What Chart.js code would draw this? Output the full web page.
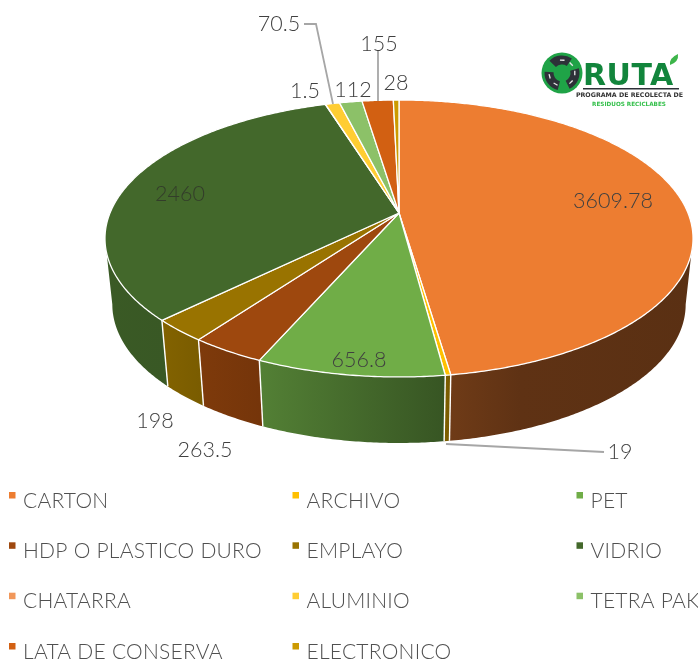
<!DOCTYPE html>
<html><head><meta charset="utf-8">
<style>html,body{margin:0;padding:0;background:#fff}canvas{display:block}</style>
<script src="https://cdn.jsdelivr.net/npm/chart.js@4"></script>
</head><body><canvas id="c" width="698" height="661"></canvas>
<script>
const categories = ['CARTON','ARCHIVO','PET','HDP O PLASTICO DURO','EMPLAYO','VIDRIO','CHATARRA','ALUMINIO','TETRA PAK','LATA DE CONSERVA','ELECTRONICO'];
const tonnage = [3609.78,19,656.8,263.5,198,2460,1.5,70.5,112,155,28];
const valueLabels = ['3609.78','19','656.8','263.5','198','2460','1.5','70.5','112','155','28'];
const sliceColors = ['#ED7D31','#FFC000','#70AD47','#9E480E','#997300','#43682B','#F1975A','#FFCD33','#8CC168','#D26012','#CC9A00'];

const FONT = 'Lato, "Open Sans", sans-serif';
const G = {cx:399, cy:213, Rx:289, Ry:133.8, p:0.184, s:0.975, d:66};
const SHADE = [[105,.87],[165,.85],[200,.80],[260,.74],[445,.49],[450,.47],[520,.40],[693,.38]];
const LABEL_POS = [[620,452],[620,452],[359,360],[205,450],[155,421],[180,194],[305,91],[279,24],[353,90],[379,44],[396,83]];
LABEL_POS[0] = [613,201];

function top3d(t){const u=Math.sin(t),v=-Math.cos(t),w=1-G.p*v;return [G.cx+G.Rx*u/w,G.cy+G.Ry*v/w];}
function low3d(t){const q=top3d(t);return [G.cx+(q[0]-G.cx)*G.s,q[1]+G.d];}
function rgb(h){return [1,3,5].map(i=>parseInt(h.substr(i,2),16));}
const WMIN=100.6*Math.PI/180, WMAX=259.4*Math.PI/180, STEP=Math.PI/360;

const pie3d = {
  id:'pie3d',
  beforeDatasetDraw(chart,args){
    const ctx=chart.ctx, arcs=args.meta.data;
    const ang=arcs.map(a=>[a.startAngle+Math.PI/2,a.endAngle+Math.PI/2]);
    ctx.save();
    arcs.forEach((a,i)=>{
      const s=Math.max(ang[i][0],WMIN), e=Math.min(ang[i][1],WMAX);
      if(e<=s) return;
      const base=rgb(a.options.backgroundColor);
      const g=ctx.createLinearGradient(105,0,693,0);
      SHADE.forEach(([x,f])=>g.addColorStop((x-105)/588,`rgb(${base.map(c=>Math.round(c*f)).join(',')})`));
      ctx.beginPath();
      for(let t=s;t<e;t+=STEP){const q=top3d(t);ctx.lineTo(q[0],q[1]);}
      let q=top3d(e);ctx.lineTo(q[0],q[1]);
      for(let t=e;t>s;t-=STEP){q=low3d(t);ctx.lineTo(q[0],q[1]);}
      q=low3d(s);ctx.lineTo(q[0],q[1]);
      ctx.closePath();ctx.fillStyle=g;ctx.fill();
    });
    ctx.strokeStyle='#fff';ctx.lineWidth=1.4;
    arcs.forEach((a,i)=>{
      const t=ang[i][0];
      if(t<=WMIN||t>=WMAX) return;
      const q=top3d(t),r=low3d(t);
      ctx.beginPath();ctx.moveTo(q[0],q[1]);ctx.lineTo(r[0],r[1]);ctx.stroke();
    });
    arcs.forEach((a,i)=>{
      ctx.beginPath();ctx.moveTo(G.cx,G.cy);
      for(let t=ang[i][0];t<ang[i][1];t+=STEP){const q=top3d(t);ctx.lineTo(q[0],q[1]);}
      const q=top3d(ang[i][1]);ctx.lineTo(q[0],q[1]);ctx.closePath();
      ctx.fillStyle=a.options.backgroundColor;ctx.fill();
      ctx.lineJoin='round';ctx.strokeStyle='#fff';ctx.lineWidth=1.3;ctx.stroke();
    });
    ctx.restore();
    return false;
  },
  afterDraw(chart){
    const ctx=chart.ctx;
    ctx.save();
    ctx.strokeStyle='#A6A6A6';ctx.lineWidth=1.8;
    [[[304,24],[316,24],[333,104]],[[378,50],[378,101]],[[446,444],[604,452]]].forEach(l=>{
      ctx.beginPath();l.forEach((q,i)=>i?ctx.lineTo(q[0],q[1]):ctx.moveTo(q[0],q[1]));ctx.stroke();
    });
    ctx.textAlign='center';ctx.textBaseline='middle';
    ctx.font='300 21.5px '+FONT;
    valueLabels.forEach((s,i)=>{ctx.fillStyle=i===5?'#333d2a':'#404040';ctx.fillText(s,LABEL_POS[i][0],LABEL_POS[i][1]);});
    const cols=[9,292.5,576.5], rowY=[500,550.3,600.7,651];
    ctx.textAlign='left';ctx.font='300 21px '+FONT;ctx.letterSpacing='0.25px';
    categories.forEach((n,i)=>{
      const c=cols[i%3], y=rowY[Math.floor(i/3)];
      ctx.fillStyle=sliceColors[i];ctx.fillRect(c,y-8,6.5,6.5);
      ctx.fillStyle='#505050';ctx.fillText(n,c+14,y+1);
    });
    ctx.letterSpacing='0px';
    drawLogo(ctx);
    ctx.restore();
  }
};

function drawLogo(ctx){
  const x=562,y=73;
  ctx.fillStyle='#1FA347';ctx.beginPath();ctx.arc(x,y,20.5,0,Math.PI*2);ctx.fill();
  ctx.lineCap='butt';ctx.lineWidth=9;ctx.strokeStyle='#2d3138';
  [-90,30,150].forEach(d=>{
    const r=d*Math.PI/180;
    ctx.beginPath();ctx.arc(x,y,13,r-0.8,r+0.6);ctx.stroke();
  });
  ctx.strokeStyle='#e8e8e8';ctx.lineWidth=1.3;
  [[-99,-54],[-10,35],[110,155]].forEach(([a,b])=>{
    const p=(a*Math.PI/180),q=(b*Math.PI/180);
    ctx.beginPath();ctx.moveTo(x+13*Math.cos(p),y+13*Math.sin(p));ctx.lineTo(x+13*Math.cos(p+.35),y+13*Math.sin(p+.35));ctx.stroke();
    ctx.beginPath();ctx.moveTo(x+13*Math.cos(q),y+13*Math.sin(q));ctx.lineTo(x+13*Math.cos(q+.35),y+13*Math.sin(q+.35));ctx.stroke();
  });
  ctx.textAlign='left';ctx.textBaseline='alphabetic';
  ctx.fillStyle='#12853C';ctx.font='bold 30px "DejaVu Sans", sans-serif';
  ctx.letterSpacing='0.5px';
  ctx.fillText('RUTA',583,85);ctx.letterSpacing='0px';
  ctx.fillStyle='#3DB54A';ctx.beginPath();ctx.moveTo(670,65);ctx.quadraticCurveTo(669,58,678,54);ctx.quadraticCurveTo(679,62,670,65);ctx.fill();
  ctx.fillStyle='#2d3138';ctx.fillRect(583,88,96,1.5);
  ctx.textAlign='center';
  ctx.font='bold 6.3px "DejaVu Sans", sans-serif';ctx.fillStyle='#333';
  ctx.fillText('PROGRAMA DE RECOLECTA DE',629.5,97);
  ctx.font='bold 5.7px "DejaVu Sans", sans-serif';ctx.fillStyle='#35C04C';
  ctx.fillText('RESIDUOS RECICLABES',629,105.5);
}

new Chart(document.getElementById('c'),{
  type:'pie',
  data:{labels:categories,datasets:[{data:tonnage,backgroundColor:sliceColors,borderColor:'#fff',borderWidth:1}]},
  options:{responsive:false,animation:false,plugins:{legend:{display:false},tooltip:{enabled:false}}},
  plugins:[pie3d]
});
</script></body></html>
